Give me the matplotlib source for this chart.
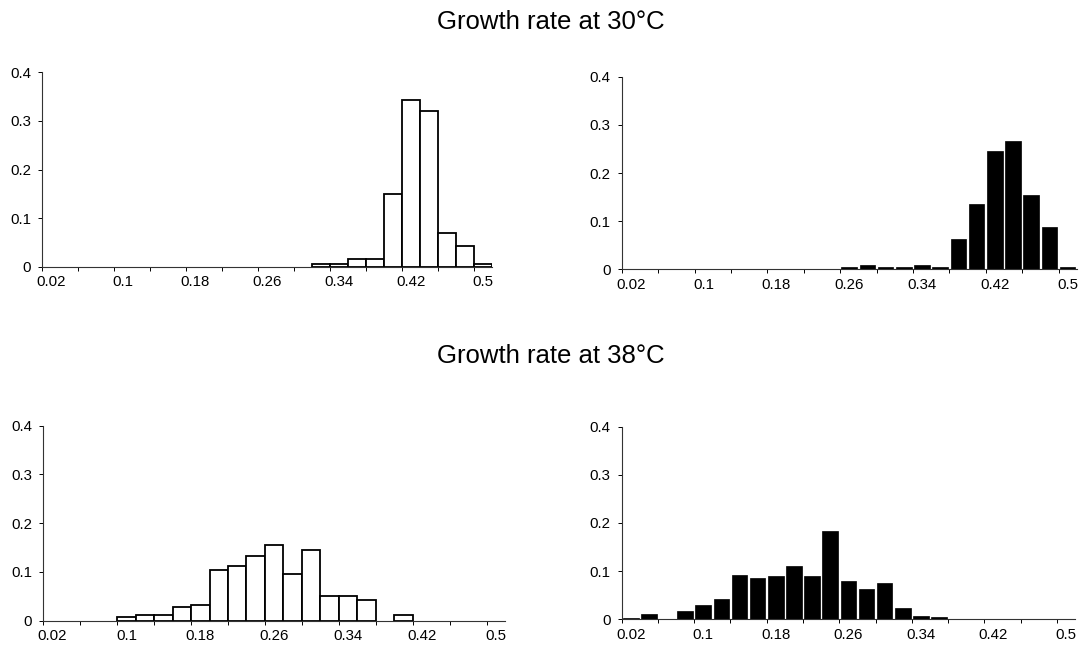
import numpy as np
import matplotlib
matplotlib.use("Agg")
import matplotlib.pyplot as plt
from matplotlib.ticker import FixedLocator, NullFormatter

plt.rcParams['font.family'] = ['Liberation Sans', 'DejaVu Sans']

# bin labels (growth rate classes)
bins = [0.02, 0.04, 0.06, 0.08, 0.10, 0.12, 0.14, 0.16, 0.18, 0.20,
        0.22, 0.24, 0.26, 0.28, 0.30, 0.32, 0.34, 0.36, 0.38, 0.40,
        0.42, 0.44, 0.46, 0.48, 0.50]
tick_labels = ["0.02", "0.1", "0.18", "0.26", "0.34", "0.42", "0.5"]

# relative frequencies
freq_30_open = [0, 0, 0, 0, 0, 0, 0, 0, 0, 0,
                0, 0, 0, 0, 0, 0.006, 0.006, 0.015, 0.015, 0.149,
                0.344, 0.320, 0.069, 0.043, 0.006]
freq_30_filled = [0, 0, 0, 0, 0, 0, 0, 0, 0, 0,
                  0, 0, 0.004, 0.008, 0.004, 0.004, 0.009, 0.004, 0.062, 0.135,
                  0.246, 0.267, 0.155, 0.088, 0.004]
freq_38_open = [0, 0, 0, 0, 0.0075, 0.012, 0.012, 0.029, 0.033, 0.104,
                0.113, 0.133, 0.155, 0.095, 0.146, 0.050, 0.050, 0.042, 0, 0.012,
                0, 0, 0, 0, 0]
freq_38_filled = [0.0035, 0.011, 0, 0.0175, 0.029, 0.042, 0.093, 0.085, 0.089, 0.110,
                  0.089, 0.184, 0.080, 0.063, 0.076, 0.024, 0.007, 0.004, 0, 0,
                  0, 0, 0, 0, 0]

W, H = 1082, 653
fig = plt.figure(figsize=(W / 100, H / 100), dpi=100)


def px_axes(x0, x1, y0, y1):
    # y0 = pixel row of zero line, y1 = pixel row of 0.4
    return fig.add_axes([x0 / W, 1 - y0 / H, (x1 - x0) / W, (y0 - y1) / H])


def draw_hist(ax, values, filled):
    x = np.arange(len(bins))
    v = np.array(values)
    keep = v > 0
    if filled:
        ax.bar(x[keep], v[keep], width=0.86, color="black", edgecolor="black", linewidth=0.5)
    else:
        ax.bar(x[keep], v[keep], width=1.0, color="white", edgecolor="black", linewidth=1.3)
    ax.set_xlim(-0.5, len(bins) - 0.5)
    ax.set_ylim(0, 0.4)
    for s in ["top", "right"]:
        ax.spines[s].set_visible(False)
    for s in ["left", "bottom"]:
        ax.spines[s].set_linewidth(0.8)
        ax.spines[s].set_color("#333333")
    ax.set_yticks([0, 0.1, 0.2, 0.3, 0.4])
    ax.set_yticklabels(["0", "0.1", "0.2", "0.3", "0.4"])
    ax.set_xticks(np.arange(0, len(bins), 4))
    ax.set_xticklabels(tick_labels)
    ax.xaxis.set_minor_locator(FixedLocator(np.arange(-0.5, len(bins) - 0.5, 2)))
    ax.xaxis.set_minor_formatter(NullFormatter())
    ax.tick_params(axis="x", which="major", length=0, pad=6, labelsize=10.8)
    ax.tick_params(axis="x", which="minor", length=3, width=0.7, direction="out")
    ax.tick_params(axis="y", length=3, width=0.7, pad=5, labelsize=10.8)
    ax.set_facecolor("none")


ax1 = px_axes(42, 492, 266.7, 72.3)
draw_hist(ax1, freq_30_open, False)
ax2 = px_axes(621.7, 1076.7, 269.3, 76.7)
draw_hist(ax2, freq_30_filled, True)
ax3 = px_axes(43.3, 505, 620.7, 425.7)
draw_hist(ax3, freq_38_open, False)
ax4 = px_axes(621.7, 1075, 619.3, 426.7)
draw_hist(ax4, freq_38_filled, True)

fig.text(551 / W, 1 - 22 / H, "Growth rate at 30°C", ha="center", va="center", fontsize=18.5)
fig.text(551 / W, 1 - 356 / H, "Growth rate at 38°C", ha="center", va="center", fontsize=18.5)

fig.savefig("out.png", dpi=100, facecolor="white")
